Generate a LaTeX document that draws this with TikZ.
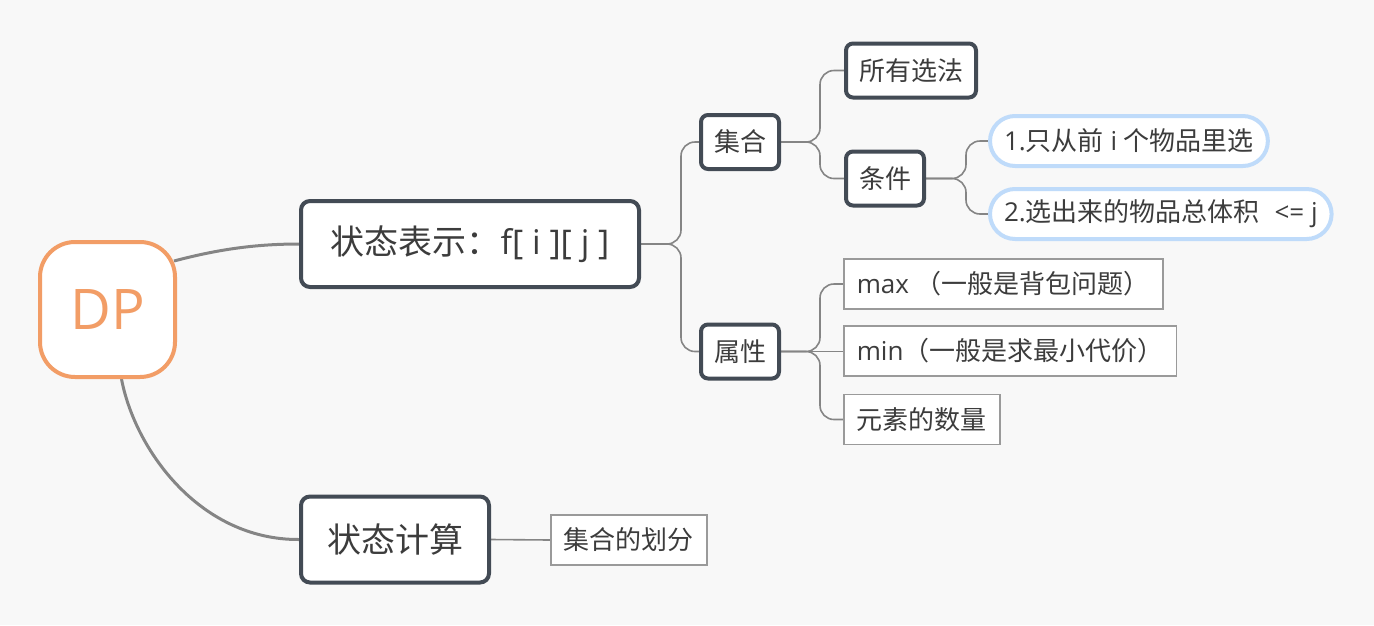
\documentclass[tikz,border=0pt]{standalone}
\usepackage{fontspec}
\setmainfont{Open Sans}
\newfontfamily\cjk{Noto Sans CJK SC}
\usetikzlibrary{backgrounds,calc}
\definecolor{bg}{HTML}{F8F8F8}
\definecolor{dark}{HTML}{434B55}
\definecolor{orng}{HTML}{F29D66}
\definecolor{pillc}{HTML}{BFDBFA}
\definecolor{leafc}{HTML}{9A9A9A}
\definecolor{linec}{HTML}{858585}
\definecolor{txt}{HTML}{3C3C3C}
\begin{document}
\begin{tikzpicture}[x=1pt,y=-1pt,
  rootbox/.style={draw=orng, line width=4pt, fill=white, rounded corners=35pt,
    minimum width=135pt, minimum height=135pt, text=orng, font=\fontsize{56}{60}\selectfont},
  mainbox/.style={draw=dark, line width=4pt, fill=white, rounded corners=9pt,
    minimum height=86pt, inner xsep=26pt, text=txt, font=\fontsize{34}{38}\selectfont},
  subbox/.style={draw=dark, line width=4pt, fill=white, rounded corners=7pt,
    minimum height=54pt, inner xsep=13pt, text=txt, font=\fontsize{26}{30}\selectfont},
  pillbox/.style={draw=pillc, line width=4pt, fill=white, rounded corners=25pt,
    minimum height=50pt, inner xsep=14pt, text=txt, font=\fontsize{26}{30}\selectfont},
  leafbox/.style={draw=leafc, line width=1.5pt, fill=white,
    minimum height=50pt, inner xsep=13pt, text=txt, font=\fontsize{26}{30}\selectfont},
  biglink/.style={draw=linec, line width=3pt},
  link/.style={draw=linec, line width=1.6pt, rounded corners=14pt},
]
\useasboundingbox (0,0) rectangle (1374,625);

\node[rootbox] (dp) at (107.5,309.5) {DP};
\node[mainbox, anchor=west, minimum width=338pt] (st) at (299,244) {\cjk 状态表示：\normalfont f[ i ][ j ]};
\node[mainbox, anchor=west, minimum width=188pt] (sc) at (299,539.5) {\cjk 状态计算};

\node[subbox, anchor=west] (jh) at (699,142) {\cjk 集合};
\node[subbox, anchor=west] (sx) at (699,351.5) {\cjk 属性};

\node[subbox, anchor=west] (syx) at (844,70.5) {\cjk 所有选法};
\node[subbox, anchor=west] (tj) at (844,178.5) {\cjk 条件};

\node[pillbox, anchor=west] (c1) at (988,141) {1.{\cjk 只从前} i {\cjk 个物品里选}};
\node[pillbox, anchor=west] (c2) at (988,214) {2.{\cjk 选出来的物品总体积}\hspace{8pt} <= j};

\node[leafbox, anchor=west] (mx) at (843,284) {max {\cjk （一般是背包问题）}};
\node[leafbox, anchor=west] (mn) at (843,351) {min{\cjk （一般是求最小代价）}};
\node[leafbox, anchor=west] (ys) at (843,419.5) {\cjk 元素的数量};

\node[leafbox, anchor=west] (hf) at (550,540) {\cjk 集合的划分};

\begin{pgfonlayer}{background}
  \fill[bg] (0,0) rectangle (1374,625);
  \draw[biglink] ($(dp.north east)+(-3,21)$) .. controls (212,251) and (250,244) .. (st.west);
  \draw[biglink] ($(dp.south)+(14,0)$) .. controls (135,450) and (200,540) .. (sc.west);

  \draw[link] (st.east) -- ++(40,0) |- (jh.west);
  \draw[link] (st.east) -- ++(40,0) |- (sx.west);

  \draw[link] (jh.east) -- ++(39,0) |- (syx.west);
  \draw[link] (jh.east) -- ++(39,0) |- (tj.west);

  \draw[link] (tj.east) -- ++(40,0) |- (c1.west);
  \draw[link] (tj.east) -- ++(40,0) |- (c2.west);

  \draw[link] (sx.east) -- ++(39,0) |- (mx.west);
  \draw[link] (sx.east) -- (sx.east -| mn.west);
  \draw[link] (sx.east) -- ++(39,0) |- (ys.west);

  \draw[link] (sc.east) -- (hf.west);
\end{pgfonlayer}
\end{tikzpicture}
\end{document}
